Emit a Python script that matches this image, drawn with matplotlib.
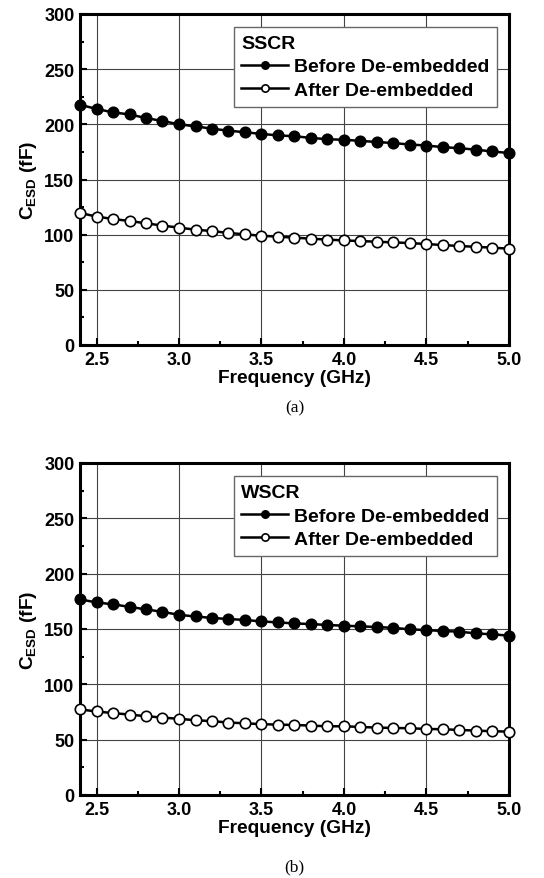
import matplotlib
matplotlib.use("Agg")
import matplotlib.pyplot as plt
from matplotlib.ticker import MultipleLocator

plt.rcParams['font.family'] = ['Liberation Sans', 'DejaVu Sans']
plt.rcParams['mathtext.fontset'] = 'custom'
plt.rcParams['mathtext.rm'] = 'Liberation Sans:bold'
plt.rcParams['mathtext.bf'] = 'Liberation Sans:bold'
plt.rcParams['mathtext.it'] = 'Liberation Sans:bold'

freq = [2.4, 2.5, 2.6, 2.7, 2.8, 2.9, 3.0, 3.1, 3.2, 3.3, 3.4, 3.5, 3.6, 3.7,
        3.8, 3.9, 4.0, 4.1, 4.2, 4.3, 4.4, 4.5, 4.6, 4.7, 4.8, 4.9, 5.0]

sscr_before = [217.7, 214.0, 210.8, 209.0, 205.7, 203.0, 200.0, 198.2, 196.0, 194.3,
               192.8, 191.3, 190.0, 189.2, 187.7, 186.5, 186.0, 185.0, 184.0, 183.0,
               181.7, 180.8, 179.3, 178.4, 177.0, 175.4, 174.0]
sscr_after = [119.7, 116.4, 114.2, 112.4, 110.3, 108.2, 106.4, 104.5, 103.3, 101.5,
              100.3, 99.0, 98.2, 97.3, 96.4, 95.5, 94.8, 94.2, 93.6, 93.0,
              92.4, 91.5, 90.6, 89.7, 89.0, 88.2, 87.3]
wscr_before = [176.8, 174.0, 172.3, 170.0, 167.7, 165.5, 162.8, 161.3, 160.0, 159.0,
               158.2, 156.8, 156.0, 155.0, 154.5, 153.6, 153.0, 152.4, 151.8, 151.0,
               149.7, 149.0, 148.2, 147.6, 146.0, 145.2, 144.0]
wscr_after = [77.3, 75.5, 74.0, 72.7, 71.2, 70.0, 68.8, 67.6, 66.7, 65.5,
              64.8, 64.0, 63.6, 63.3, 62.7, 62.1, 62.1, 61.5, 60.9, 60.6,
              60.3, 59.7, 59.4, 58.8, 58.2, 57.6, 57.3]

panels = [("SSCR", sscr_before, sscr_after, "(a)"),
          ("WSCR", wscr_before, wscr_after, "(b)")]
labels = ["Before De-embedded", "After De-embedded"]

W, H = 544, 879
fig = plt.figure(figsize=(W / 100, H / 100), dpi=100)

# axes boxes in pixels: (left, top, right, bottom)
boxes = [(80, 15, 509, 346), (80, 464, 509, 796)]
caption_y = [408, 867]

for (name, before, after, cap), (l, t, r, b), cy in zip(panels, boxes, caption_y):
    ax = fig.add_axes([l / W, 1 - b / H, (r - l) / W, (b - t) / H])
    ax.plot(freq, before, '-o', color='black', lw=1.8, ms=7.5,
            mfc='black', mec='black', mew=1.2, label=labels[0], clip_on=False, zorder=3)
    ax.plot(freq, after, '-o', color='black', lw=1.8, ms=7.5,
            mfc='white', mec='black', mew=1.2, label=labels[1], clip_on=False, zorder=3)
    ax.set_xlim(2.4, 5.0)
    ax.set_ylim(0, 300)
    ax.xaxis.set_major_locator(MultipleLocator(0.5))
    ax.xaxis.set_minor_locator(MultipleLocator(0.25))
    ax.yaxis.set_major_locator(MultipleLocator(50))
    ax.yaxis.set_minor_locator(MultipleLocator(25))
    ax.set_xticks([2.5, 3.0, 3.5, 4.0, 4.5, 5.0])
    ax.set_xticklabels(["2.5", "3.0", "3.5", "4.0", "4.5", "5.0"])
    ax.grid(True, which='major', color='#444444', lw=0.8)
    ax.tick_params(which='both', direction='in', top=False, right=False,
                   labelsize=13, width=1.5)
    ax.tick_params(which='major', length=5, pad=4)
    ax.tick_params(which='minor', length=3)
    for lab in ax.get_xticklabels() + ax.get_yticklabels():
        lab.set_fontweight('bold')
    for s in ax.spines.values():
        s.set_linewidth(2.2)
    ax.set_xlabel("Frequency (GHz)", fontsize=13.8, fontweight='bold', labelpad=1)
    ax.set_ylabel(r"C$_{\mathrm{ESD}}$ (fF)", fontsize=13.8, fontweight='bold', labelpad=4)
    leg = ax.legend(title=name, loc='upper right', bbox_to_anchor=(0.972, 0.96),
                    fontsize=14, title_fontproperties={'weight': 'bold', 'size': 14},
                    frameon=True, fancybox=False, edgecolor='#666666',
                    framealpha=1, handlelength=2.4, handletextpad=0.3,
                    markerscale=0.7,
                    borderpad=0.4, labelspacing=0.3, borderaxespad=0)
    leg._legend_box.align = "left"
    leg.get_frame().set_linewidth(1.0)
    for txt in leg.get_texts():
        txt.set_fontweight('bold')
    fig.text((l + r) / 2 / W + 0.0, 1 - cy / H, cap, ha='center', va='center',
             fontsize=12.5, family='Liberation Serif')

fig.savefig("out.png", dpi=100, facecolor='white')
